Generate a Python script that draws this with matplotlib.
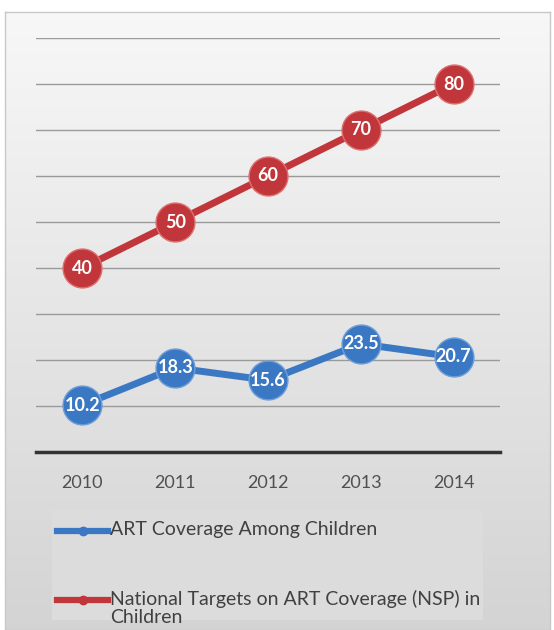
import numpy as np
import matplotlib.pyplot as plt
from matplotlib.patches import Rectangle
from matplotlib.lines import Line2D

years = ['2010', '2011', '2012', '2013', '2014']
art_children = [10.2, 18.3, 15.6, 23.5, 20.7]
nsp_targets = [40, 50, 60, 70, 80]
art_label = 'ART Coverage Among Children'
nsp_label = 'National Targets on ART Coverage (NSP) in\nChildren'

blue = '#3b78c3'
red = '#c0363a'

W, H = 554, 630
fig = plt.figure(figsize=(W / 100, H / 100), dpi=100)
fig.patch.set_facecolor('white')

# background panel with vertical gradient
bg = fig.add_axes([5 / W, 0, 545 / W, 1 - 12 / H])
grad = np.linspace(0.97, 0.83, 256).reshape(-1, 1)
bg.imshow(np.dstack([grad, grad, grad]), aspect='auto', extent=[0, 1, 0, 1])
bg.set_xticks([])
bg.set_yticks([])
for s in bg.spines.values():
    s.set_color('#c8c8c8')
    s.set_linewidth(1)

ax = fig.add_axes([36 / W, 1 - 452 / H, 464 / W, 414 / H])
ax.set_facecolor('none')
x = np.arange(len(years))
ax.set_xlim(-0.5, len(years) - 0.5)
ax.set_ylim(0, 90)
ax.set_yticks(np.arange(10, 91, 10))
ax.yaxis.grid(True, color='#9a9a9a', linewidth=1)
ax.tick_params(axis='y', left=False, labelleft=False)
ax.tick_params(axis='x', bottom=False, pad=13, labelsize=13, labelcolor='#505050')
ax.set_xticks(x)
ax.set_xticklabels(years, family='Lato')
for s in ['top', 'right', 'left']:
    ax.spines[s].set_visible(False)
ax.spines['bottom'].set_color('#333333')
ax.spines['bottom'].set_linewidth(2.5)

l1, = ax.plot(x, art_children, color=blue, linewidth=5, marker='o',
              markersize=28, markeredgecolor='#6f9fd8', markeredgewidth=1, zorder=3)
l2, = ax.plot(x, nsp_targets, color=red, linewidth=5, marker='o',
              markersize=28, markeredgecolor='#e07070', markeredgewidth=1, zorder=3)
for xi, v in zip(x, art_children):
    ax.text(xi, v, f'{v:.1f}', ha='center', va='center', color='white',
            fontsize=13, fontweight='bold', family='Lato', zorder=4)
for xi, v in zip(x, nsp_targets):
    ax.text(xi, v, f'{v}', ha='center', va='center', color='white',
            fontsize=13, fontweight='bold', family='Lato', zorder=4)

# legend box, drawn by hand
fig.patches.append(Rectangle((52 / W, 1 - 620 / H), 431 / W, 110 / H,
                             transform=fig.transFigure, facecolor='#dcdcdc',
                             edgecolor='none', zorder=1))
for line, label, yc in [(l1, art_label, 531), (l2, nsp_label, 600)]:
    fy = 1 - yc / H
    fig.add_artist(Line2D([57 / W, 108 / W], [fy, fy], color=line.get_color(),
                          linewidth=4.5, transform=fig.transFigure, zorder=2))
    fig.add_artist(Line2D([82.5 / W], [fy], color=line.get_color(), marker='o',
                          markersize=6, transform=fig.transFigure, zorder=3))
    fig.text(110 / W, 1 - (yc - 10) / H, label, ha='left', va='top',
             fontsize=14, family='Lato', color='#404040', linespacing=1.05,
             transform=fig.transFigure)

fig.savefig('out.png', dpi=100)
